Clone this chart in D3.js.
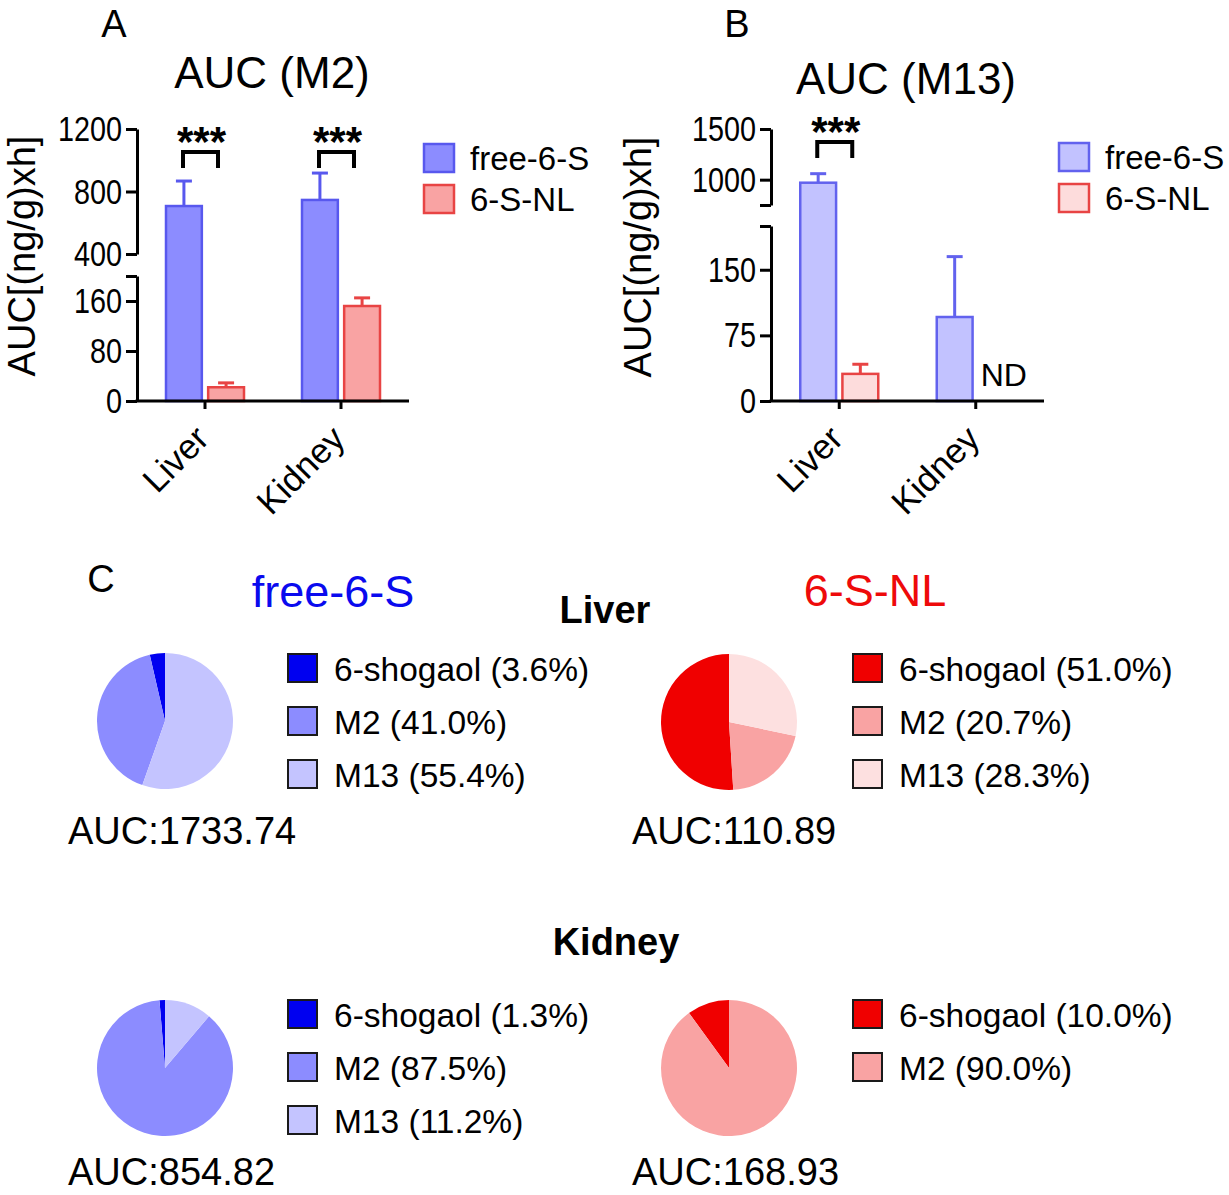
<!DOCTYPE html>
<html>
<head>
<meta charset="utf-8">
<script src="https://cdn.jsdelivr.net/npm/d3@7"></script>
<style>
  html, body { margin: 0; padding: 0; background: #fff; }
  svg text { font-family: Arial, "Liberation Sans", sans-serif; }
</style>
</head>
<body>
<svg id="chart" width="1229" height="1195"></svg>
<script>
// ---------------- DATA ----------------
const tissues = ["Liver", "Kidney"];
const groups = ["free-6-S", "6-S-NL"];

// Panel A: AUC (M2)
const m2Free = [707, 746];
const m2FreeErr = [160, 172];
const m2NL = [22, 152];
const m2NLErr = [7, 13];

// Panel B: AUC (M13)
const m13Free = [970, 96];
const m13FreeErr = [89, 69];
const m13NL = [31, null];   // Kidney: ND
const m13NLErr = [11, null];

// Axis tick labels
const aLowTicks = [0, 80, 160, 200];
const aHighTicks = [400, 800, 1200];
const bLowTicks = [0, 75, 150, 200];
const bHighTicks = [750, 1000, 1500];
const aLabelled = [0, 80, 160, 400, 800, 1200];
const bLabelled = [0, 75, 150, 1000, 1500];

// Panel C: composition pies
const components = ["6-shogaol", "M2", "M13"];
const liverFree = [3.6, 41.0, 55.4];
const liverNL = [51.0, 20.7, 28.3];
const kidneyFree = [1.3, 87.5, 11.2];
const kidneyNL = [10.0, 90.0];
const aucLiverFree = "1733.74";
const aucLiverNL = "110.89";
const aucKidneyFree = "854.82";
const aucKidneyNL = "168.93";

// ---------------- STYLE ----------------
const colA = { fill: ["#8c8cff", "#f9a3a3"], stroke: ["#5858ee", "#e84444"] };
const colB = { fill: ["#c2c2ff", "#fddcdc"], stroke: ["#6262ee", "#e84444"] };
const blues = ["#0000f0", "#8c8cff", "#c4c4ff"];
const reds = ["#f00000", "#f9a3a3", "#fde0e0"];

const svg = d3.select("#chart");
const SX = 0.8; // horizontal condensation of tick labels

// ---------------- BAR PANELS ----------------
function barPanel(opt) {
  const g = svg.append("g");
  const yLo = d3.scaleLinear().domain(opt.lowDomain).range(opt.lowRange);
  const yHi = d3.scaleLinear().domain(opt.highDomain).range(opt.highRange);
  const y = v => {
    if (v <= opt.lowDomain[1]) return yLo(v);
    if (v >= opt.highDomain[0]) return yHi(v);
    const t = (v - opt.lowDomain[1]) / (opt.highDomain[0] - opt.lowDomain[1]);
    return yLo(opt.lowDomain[1]) + t * (yHi(opt.highDomain[0]) - yLo(opt.lowDomain[1]));
  };
  const x0 = d3.scaleBand().domain(tissues).range([opt.axisX, opt.axisEnd]);
  const x1 = d3.scaleBand().domain(groups).range([-39, 39]).paddingInner(0.15);
  const base = yLo(0);

  const fmt = d => opt.labelled.includes(d) ? String(d) : "";
  const axLo = d3.axisLeft(yLo).tickValues(opt.lowTicks).tickSize(11).tickSizeOuter(0).tickPadding(4).tickFormat(fmt);
  const axHi = d3.axisLeft(yHi).tickValues(opt.highTicks).tickSize(11).tickSizeOuter(0).tickPadding(4).tickFormat(fmt);
  [axLo, axHi].forEach(ax => {
    const ag = g.append("g").attr("transform", `translate(${opt.axisX},0)`).call(ax);
    ag.selectAll("path, line").attr("stroke", "#000").attr("stroke-width", 3);
    ag.selectAll("text").attr("font-size", 36).attr("fill", "#000")
      .attr("font-family", "Arial, 'Liberation Sans', sans-serif")
      .attr("x", -15 / SX).attr("transform", `scale(${SX},1)`);
  });

  // bars
  opt.series.forEach((s, gi) => {
    s.values.forEach((v, ti) => {
      if (v == null) return;
      const cx = x0(tissues[ti]) + x0.bandwidth() / 2;
      const bx = cx + x1(groups[gi]);
      const bw = x1.bandwidth();
      g.append("rect").attr("x", bx).attr("y", y(v)).attr("width", bw).attr("height", base - y(v))
        .attr("fill", opt.colors.fill[gi]).attr("stroke", opt.colors.stroke[gi]).attr("stroke-width", 2.5);
      const top = v + s.err[ti];
      g.append("line").attr("x1", bx + bw / 2).attr("x2", bx + bw / 2).attr("y1", y(v)).attr("y2", y(top))
        .attr("stroke", opt.colors.stroke[gi]).attr("stroke-width", 3);
      g.append("line").attr("x1", bx + bw / 2 - 8).attr("x2", bx + bw / 2 + 8).attr("y1", y(top)).attr("y2", y(top))
        .attr("stroke", opt.colors.stroke[gi]).attr("stroke-width", 3);
    });
  });

  // x axis
  g.append("line").attr("x1", opt.axisX - 1.5).attr("x2", opt.axisEnd).attr("y1", base).attr("y2", base)
    .attr("stroke", "#000").attr("stroke-width", 3);
  tissues.forEach(t => {
    const cx = x0(t) + x0.bandwidth() / 2;
    g.append("line").attr("x1", cx).attr("x2", cx).attr("y1", base).attr("y2", base + 8)
      .attr("stroke", "#000").attr("stroke-width", 3);
    g.append("text").attr("transform", `translate(${cx - 12},${base + 22}) rotate(-45)`)
      .attr("text-anchor", "end").attr("dy", "0.72em").attr("font-size", 35).text(t);
  });

  // significance
  opt.sig.forEach(ti => {
    const cx = x0(tissues[ti]) + x0.bandwidth() / 2;
    const l = cx - 22, r = cx + 13, yt = opt.sigY;
    g.append("path").attr("d", `M${l},${yt + 16}V${yt}H${r}V${yt + 16}`)
      .attr("fill", "none").attr("stroke", "#000").attr("stroke-width", 4);
    g.append("text").attr("x", (l + r) / 2 + 1).attr("y", yt + 4).attr("text-anchor", "middle")
      .attr("font-size", 42).attr("font-weight", "bold").text("***");
  });

  // ND
  if (opt.nd) {
    opt.nd.forEach(([ti, gi]) => {
      const cx = x0(tissues[ti]) + x0.bandwidth() / 2;
      g.append("text").attr("x", cx + x1(groups[gi]) + x1.bandwidth() / 2 + 7).attr("y", base - 15)
        .attr("text-anchor", "middle").attr("font-size", 32).text("ND");
    });
  }

  // y label
  g.append("text").attr("transform", `translate(${opt.ylabX},${opt.ylabY}) rotate(-90)`)
    .attr("text-anchor", "middle").attr("dy", "0.35em").attr("font-size", 38).text("AUC[(ng/g)xh]");

  // title and letter
  g.append("text").attr("x", opt.titleX).attr("y", opt.titleY).attr("text-anchor", "middle")
    .attr("font-size", 44).text(opt.title);
  g.append("text").attr("x", opt.letterX).attr("y", 37).attr("text-anchor", "middle")
    .attr("font-size", 38).text(opt.letter);

  // legend
  groups.forEach((gr, gi) => {
    const ly = opt.legY + gi * 41;
    g.append("rect").attr("x", opt.legX).attr("y", ly).attr("width", 30).attr("height", 28)
      .attr("fill", opt.colors.fill[gi]).attr("stroke", opt.colors.stroke[gi]).attr("stroke-width", 2.5);
    g.append("text").attr("x", opt.legX + 46).attr("y", ly + 14).attr("dy", "0.35em")
      .attr("font-size", 33).text(gr);
  });
}

barPanel({
  letter: "A", letterX: 114, title: "AUC (M2)", titleX: 272, titleY: 88,
  axisX: 137, axisEnd: 409,
  lowDomain: [0, 200], lowRange: [401, 276],
  highDomain: [400, 1200], highRange: [254, 129],
  lowTicks: aLowTicks, highTicks: aHighTicks, labelled: aLabelled,
  series: [{ values: m2Free, err: m2FreeErr }, { values: m2NL, err: m2NLErr }],
  colors: colA, sig: [0, 1], sigY: 152,
  ylabX: 22, ylabY: 256, legX: 424, legY: 144
});

barPanel({
  letter: "B", letterX: 737, title: "AUC (M13)", titleX: 906, titleY: 94,
  axisX: 771, axisEnd: 1044,
  lowDomain: [0, 200], lowRange: [401, 226],
  highDomain: [750, 1500], highRange: [205, 129],
  lowTicks: bLowTicks, highTicks: bHighTicks, labelled: bLabelled,
  series: [{ values: m13Free, err: m13FreeErr }, { values: m13NL, err: m13NLErr }],
  colors: colB, sig: [0], sigY: 142, nd: [[1, 1]],
  ylabX: 638, ylabY: 257, legX: 1059, legY: 143
});

// ---------------- PANEL C ----------------
svg.append("text").attr("x", 101).attr("y", 592).attr("text-anchor", "middle").attr("font-size", 38).text("C");
svg.append("text").attr("x", 333).attr("y", 607).attr("text-anchor", "middle").attr("font-size", 45)
  .attr("fill", "#0a0aee").text("free-6-S");
svg.append("text").attr("x", 875).attr("y", 606).attr("text-anchor", "middle").attr("font-size", 45)
  .attr("fill", "#ee0a0a").text("6-S-NL");
svg.append("text").attr("x", 605).attr("y", 623).attr("text-anchor", "middle").attr("font-size", 38)
  .attr("font-weight", "bold").text("Liver");
svg.append("text").attr("x", 616).attr("y", 955).attr("text-anchor", "middle").attr("font-size", 38)
  .attr("font-weight", "bold").text("Kidney");

function piePanel(vals, colors, cx, cy, legX, legY, auc, aucDy) {
  const g = svg.append("g");
  const pie = d3.pie().sort(null).startAngle(0).endAngle(-2 * Math.PI);
  const arc = d3.arc().innerRadius(0).outerRadius(68);
  g.append("g").attr("transform", `translate(${cx},${cy})`)
    .selectAll("path").data(pie(vals)).join("path")
    .attr("d", arc).attr("fill", (d, i) => colors[i]);
  vals.forEach((v, i) => {
    const ly = legY + i * 53;
    g.append("rect").attr("x", legX).attr("y", ly).attr("width", 29).attr("height", 28)
      .attr("fill", colors[i]).attr("stroke", "#1a1a1a").attr("stroke-width", 2);
    g.append("text").attr("x", legX + 46).attr("y", ly + 15).attr("dy", "0.35em").attr("font-size", 33.5)
      .text(`${components[i]} (${v.toFixed(1)}%)`);
  });
  g.append("text").attr("x", cx - 97).attr("y", cy + aucDy).attr("dy", "0.35em").attr("font-size", 38)
    .text(`AUC:${auc}`);
}

piePanel(liverFree, blues, 165, 721, 288, 654, aucLiverFree, 110);
piePanel(liverNL, reds, 729, 722, 853, 654, aucLiverNL, 109);
piePanel(kidneyFree, blues, 165, 1068, 288, 1000, aucKidneyFree, 104);
piePanel(kidneyNL, reds, 729, 1068, 853, 1000, aucKidneyNL, 104);
</script>
</body>
</html>
